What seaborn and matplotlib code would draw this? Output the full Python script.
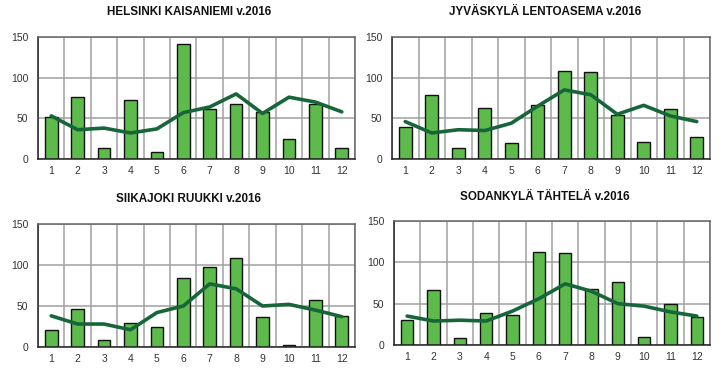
import numpy as np
import pandas as pd
import matplotlib
matplotlib.use('Agg')
import matplotlib.pyplot as plt
import seaborn as sns

months = list(range(1, 13))
titles = ['HELSINKI KAISANIEMI v.2016', 'JYVÄSKYLÄ LENTOASEMA v.2016',
          'SIIKAJOKI RUUKKI v.2016', 'SODANKYLÄ TÄHTELÄ v.2016']

# monthly precipitation 2016 (bars)
helsinki = [52, 76, 13, 73, 8, 141, 62, 68, 58, 25, 68, 14]
jyvaskyla = [39, 79, 14, 63, 20, 66, 108, 107, 54, 21, 61, 27]
siikajoki = [21, 46, 8, 29, 24, 84, 97, 108, 37, 3, 57, 38]
sodankyla = [30, 66, 9, 39, 36, 113, 111, 68, 76, 10, 49, 34]

# long-term averages (line)
helsinki_avg = [53, 36, 38, 32, 37, 57, 64, 80, 56, 76, 70, 58]
jyvaskyla_avg = [46, 32, 36, 35, 44, 65, 85, 79, 55, 66, 53, 46]
siikajoki_avg = [38, 28, 28, 21, 42, 50, 77, 71, 50, 52, 45, 37]
sodankyla_avg = [35, 29, 30, 29, 41, 56, 74, 65, 50, 47, 40, 35]

bars = [helsinki, jyvaskyla, siikajoki, sodankyla]
avgs = [helsinki_avg, jyvaskyla_avg, siikajoki_avg, sodankyla_avg]

sns.set_style('white')
plt.rcParams['font.family'] = ['Liberation Sans', 'DejaVu Sans']

fig = plt.figure(figsize=(7.26, 3.75), dpi=100)
W, H = 726, 375
# axes boxes in pixels: left, top, right, bottom
boxes = [(38, 37, 355, 159), (392, 37, 710, 159),
         (38, 224, 355, 347), (394, 221, 710, 345)]
# title centres in pixels
title_pos = [(189, 12), (545, 12), (188, 199), (545, 197)]

for i in range(4):
    l, t, r, b = boxes[i]
    ax = fig.add_axes([l / W, 1 - b / H, (r - l) / W, (b - t) / H])
    df = pd.DataFrame({'month': months, 'rain': bars[i], 'avg': avgs[i]})
    ax.bar(df['month'], df['rain'], width=0.48, color='#5dbb4c',
           edgecolor='#111111', linewidth=1.0, zorder=2)
    sns.lineplot(data=df, x='month', y='avg', color='#17663a', linewidth=2.6,
                 ax=ax, zorder=3)
    ax.set_xlim(0.5, 12.5)
    ax.set_ylim(0, 150)
    ax.set_xticks(np.arange(0.5, 13, 1))
    ax.set_xticklabels([])
    ax.set_xticks(months, minor=True)
    ax.set_xticklabels([str(m) for m in months], minor=True)
    ax.tick_params(axis='x', which='major', length=4, width=1, color='#222222',
                   direction='out')
    ax.tick_params(axis='x', which='minor', length=0, labelsize=7.5,
                   labelcolor='#333333', pad=5)
    ax.set_yticks([0, 50, 100, 150])
    ax.set_yticks(np.arange(0, 151, 10), minor=True)
    ax.tick_params(axis='y', which='major', length=5, width=1, color='#222222',
                   labelsize=7.5, labelcolor='#333333', pad=2)
    ax.tick_params(axis='y', which='minor', length=3, width=0.8, color='#222222')
    ax.grid(True, which='major', color='#a0a0a0', linewidth=1.1, zorder=0)
    ax.set_axisbelow(True)
    for s in ['left', 'bottom']:
        ax.spines[s].set_color('#222222')
        ax.spines[s].set_linewidth(1.1)
    for s in ['top', 'right']:
        ax.spines[s].set_color('#666666')
        ax.spines[s].set_linewidth(1.1)
    ax.set_xlabel('')
    ax.set_ylabel('')
    tx, ty = title_pos[i]
    fig.text(tx / W, 1 - ty / H, titles[i], fontsize=8.4, fontweight='bold',
             ha='center', va='center', color='#111111')

fig.savefig('out.png', dpi=100)
